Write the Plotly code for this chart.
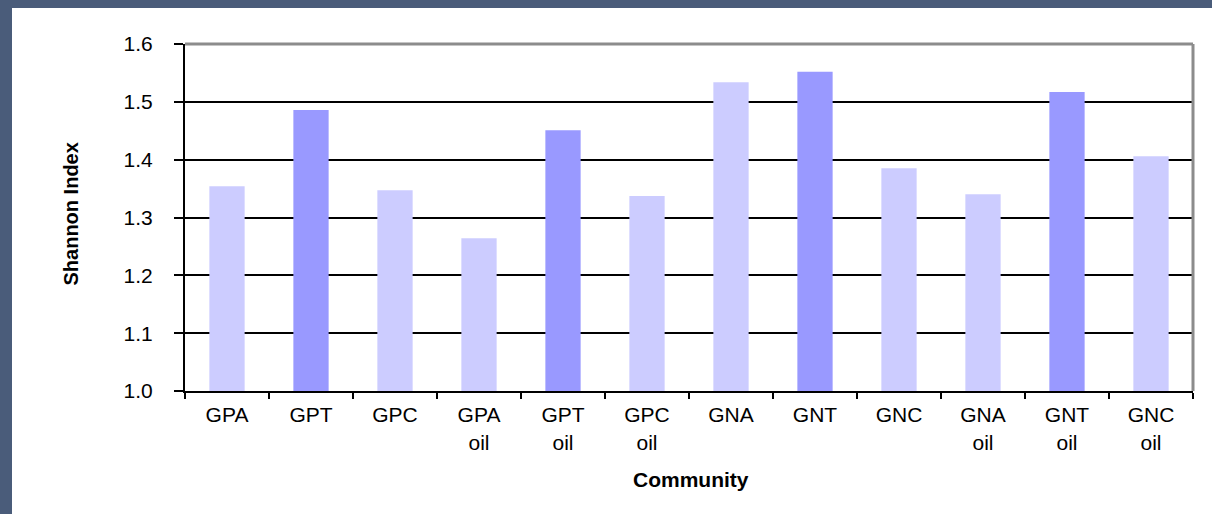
import plotly.graph_objects as go

categories = ["GPA", "GPT", "GPC", "GPA<br>oil", "GPT<br>oil", "GPC<br>oil",
              "GNA", "GNT", "GNC", "GNA<br>oil", "GNT<br>oil", "GNC<br>oil"]
values = [1.354, 1.486, 1.347, 1.264, 1.451, 1.337,
          1.534, 1.552, 1.385, 1.340, 1.517, 1.406]
bar_colors = ["#CCCCFF", "#9999FF", "#CCCCFF", "#CCCCFF", "#9999FF", "#CCCCFF",
              "#CCCCFF", "#9999FF", "#CCCCFF", "#CCCCFF", "#9999FF", "#CCCCFF"]
y_ticks = [1.0, 1.1, 1.2, 1.3, 1.4, 1.5, 1.6]
y_ticktext = ["1.0", "1.1", "1.2", "1.3", "1.4", "1.5", "1.6"]

W, H = 1212, 514
L, R, T, B = 185, 19, 44, 123
pw, ph = W - L - R, H - T - B

def px(x):
    return (x - L) / pw

def py(y):
    return (H - B - y) / ph

fig = go.Figure(go.Bar(x=categories, y=values,
                       marker=dict(color=bar_colors, line=dict(width=0)),
                       width=0.42, hoverinfo="x+y"))

frame = "#4A5C7A"
font_family = "Liberation Sans, Arial, sans-serif"
fig.update_layout(
    width=W, height=H,
    margin=dict(l=L, r=R, t=T, b=B),
    paper_bgcolor="white", plot_bgcolor="white",
    showlegend=False,
    font=dict(family=font_family, color="black"),
    xaxis=dict(type="category", tickson="boundaries", ticks="outside", ticklen=6,
               tickwidth=2, tickcolor="black", showline=True, linecolor="black", linewidth=2,
               showgrid=False, tickfont=dict(size=21), ticklabelstandoff=4,
               range=[-0.5, 11.5]),
    yaxis=dict(range=[1.0, 1.6], tickvals=y_ticks, ticktext=y_ticktext, ticks="outside",
               ticklen=9, tickwidth=2, tickcolor="black", showline=True, linecolor="black",
               linewidth=2, showgrid=True, gridcolor="black", gridwidth=2, zeroline=False,
               tickfont=dict(size=21), ticklabelstandoff=17),
    annotations=[
        dict(text="<b>Community</b>", xref="paper", yref="paper", x=px(691), y=py(479),
             xanchor="center", yanchor="middle", showarrow=False, font=dict(size=21)),
        dict(text="<b>Shannon Index</b>", xref="paper", yref="paper", x=px(70.5), y=py(214),
             xanchor="center", yanchor="middle", showarrow=False, textangle=-90,
             font=dict(size=20)),
    ],
    shapes=[
        dict(type="rect", xref="paper", yref="paper", x0=px(0), x1=px(W), y0=py(0), y1=py(8),
             fillcolor=frame, line=dict(width=0), layer="above"),
        dict(type="rect", xref="paper", yref="paper", x0=px(0), x1=px(12), y0=py(0), y1=py(H),
             fillcolor=frame, line=dict(width=0), layer="above"),
        dict(type="line", xref="paper", yref="paper", x0=0, x1=1, y0=1, y1=1,
             line=dict(color="#8C8C8C", width=3), layer="above"),
        dict(type="line", xref="paper", yref="paper", x0=1, x1=1, y0=0, y1=1,
             line=dict(color="#8C8C8C", width=3), layer="above"),
    ],
)

fig.write_html("out.html", config={"displayModeBar": False},
               post_script="document.body.style.margin='0px';")
